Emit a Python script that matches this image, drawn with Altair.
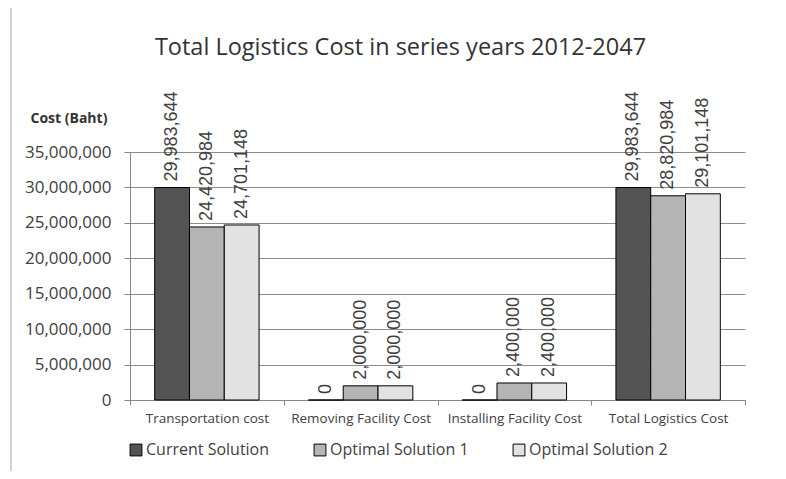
import altair as alt
import pandas as pd

categories = ["Transportation cost", "Removing Facility Cost",
              "Installing Facility Cost", "Total Logistics Cost"]
series = ["Current Solution", "Optimal Solution 1", "Optimal Solution 2"]
current = [29983644, 0, 0, 29983644]
optimal1 = [24420984, 2000000, 2400000, 28820984]
optimal2 = [24701148, 2000000, 2400000, 29101148]
y_ticks = [0, 5000000, 10000000, 15000000, 20000000, 25000000, 30000000, 35000000]
fills = ["#545454", "#b4b4b4", "#e2e2e2"]

rows = []
for s, vals in zip(series, [current, optimal1, optimal2]):
    for c, v in zip(categories, vals):
        rows.append({"category": c, "series": s, "value": v})
df = pd.DataFrame(rows)

x_enc = alt.X(
    "category:N", sort=categories,
    scale=alt.Scale(paddingInner=0, paddingOuter=0),
    axis=alt.Axis(title=None, labelAngle=0, tickBand="extent", grid=False,
                  labelFont="Open Sans", labelFontSize=13.5, labelColor="#404040",
                  domainColor="#868686", tickColor="#868686", tickSize=5,
                  labelPadding=6),
)
xoff_enc = alt.XOffset("series:N", sort=series,
                       scale=alt.Scale(paddingOuter=0.709, paddingInner=0))
y_enc = alt.Y(
    "value:Q",
    scale=alt.Scale(domain=[0, 35000000]),
    axis=alt.Axis(values=y_ticks, format=",.0f", title="Cost (Baht)",
                  titleAngle=0, titleAlign="left", titleBaseline="middle",
                  titleX=-100, titleY=-34, titleFont="Open Sans",
                  titleFontSize=14, titleFontWeight="bold", titleColor="#333333",
                  labelFont="Open Sans", labelFontSize=17, labelColor="#404040",
                  tickSize=6, labelPadding=13, tickColor="#868686",
                  domainColor="#868686", gridColor="#8c8c8c"),
)

bars = alt.Chart(df).mark_bar(stroke="black", strokeWidth=1).encode(
    x=x_enc,
    xOffset=xoff_enc,
    y=y_enc,
    fill=alt.Fill(
        "series:N", sort=series,
        scale=alt.Scale(domain=series, range=fills),
        legend=alt.Legend(title=None, orient="none", legendX=-2, legendY=290,
                          direction="horizontal", columnPadding=42,
                          symbolType="square", symbolSize=140,
                          symbolStrokeColor="black", symbolStrokeWidth=1,
                          labelFont="Open Sans", labelFontSize=16,
                          labelColor="#404040", labelOffset=2),
    ),
)

labels = alt.Chart(df).mark_text(
    angle=270, align="left", baseline="middle", dx=6,
    font="Liberation Sans", fontSize=18, color="#404040",
).encode(
    x=x_enc,
    xOffset=xoff_enc,
    y=y_enc,
    text=alt.Text("value:Q", format=",.0f"),
)

frame = alt.Chart(pd.DataFrame({"a": [0]})).mark_rule(
    color="#c4c4c4", strokeWidth=1.5
).encode(x=alt.value(-119), y=alt.value(-152), y2=alt.value(326))

chart = alt.layer(frame, bars, labels).properties(
    width=615, height=248,
    title=alt.Title("Total Logistics Cost in series years 2012-2047",
                    font="Open Sans", fontSize=23.5, fontWeight="normal",
                    color="#333333", anchor="middle", dx=-37, offset=-60),
    autosize=alt.AutoSizeParams(type="none"),
    padding={"left": 122, "top": 144, "right": 33, "bottom": 71},
).configure_view(stroke=None)

chart.save("out.html", embed_options={"renderer": "svg", "actions": False})
